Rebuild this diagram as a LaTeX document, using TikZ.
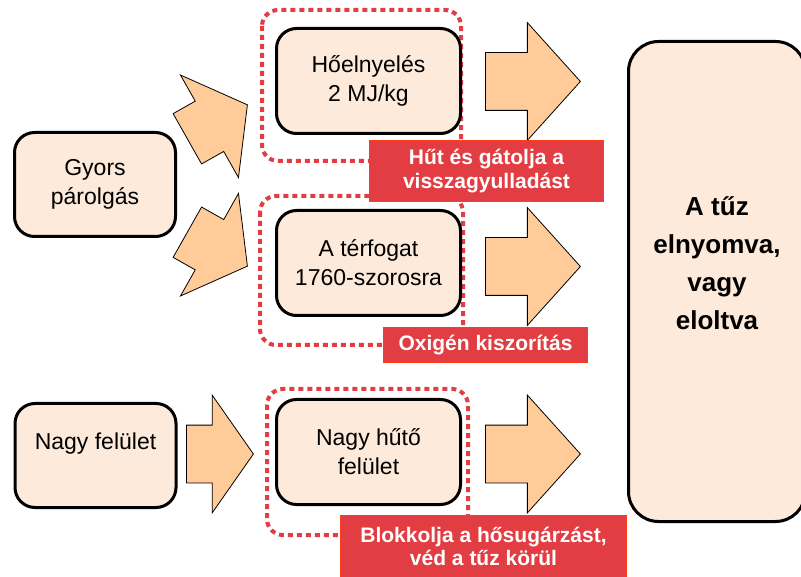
\documentclass[tikz,border=0pt]{standalone}
\usepackage{fontspec}
\setmainfont{Liberation Sans}
\usepackage{tikz}
\usetikzlibrary{shapes.arrows}
\definecolor{peachfill}{HTML}{FDEADA}
\definecolor{arrowfill}{HTML}{FFCC99}
\definecolor{redmark}{HTML}{E23D42}
\definecolor{tagedge}{HTML}{FF3D14}

\begin{document}
\begin{tikzpicture}[x=1pt,y=-1pt,
  softbox/.style={draw,line width=3pt,rounded corners=20pt,fill=peachfill,align=center,inner sep=0pt,font=\fontsize{23}{29}\selectfont},
  fatarrow/.style={single arrow,draw,line width=.8pt,fill=arrowfill,inner xsep=0pt,inner ysep=28.5pt,single arrow head extend=30pt,anchor=tail},
  dotframe/.style={draw=redmark,line width=4pt,dash pattern=on 5pt off 4pt,rounded corners=16pt},
  redtag/.style={draw=tagedge,line width=1pt,fill=redmark,text=white,align=center,inner sep=0pt,font=\fontsize{21}{23.5}\selectfont\bfseries}]
  \useasboundingbox (0,0) rectangle (801,577);
  % red dotted groups
  \draw[dotframe] (262,10) rectangle (461,161);
  \draw[dotframe] (260,196) rectangle (463,345);
  \draw[dotframe] (267,389) rectangle (468,535);
  % boxes
  \node[softbox,minimum width=161pt,minimum height=104pt] (gyors) at (95,184.5) {Gyors\\párolgás};
  \node[softbox,minimum width=161pt,minimum height=104pt] (felulet) at (95.5,455.5) {Nagy felület\\\mbox{}};
  \node[softbox,minimum width=184pt,minimum height=105pt] (hoe) at (368.5,81) {Hőelnyelés\\2 MJ/kg};
  \node[softbox,minimum width=184pt,minimum height=105pt] (terf) at (368.5,263) {A térfogat\\1760-szorosra};
  \node[softbox,minimum width=184pt,minimum height=105pt] (huto) at (368.5,452) {Nagy hűtő\\felület};
  \node[softbox,rounded corners=30pt,minimum width=177pt,minimum height=480pt] (tuz) at (717,281.5) {};
  \node[align=center,font=\fontsize{26}{38}\selectfont\bfseries] (tuztext) at (717,263) {A tűz\\elnyomva,\\vagy\\eloltva};
  % block arrows
  \node[fatarrow,rotate=29.5,minimum height=69pt,single arrow tip angle=107] (up) at (187,139) {};
  \node[fatarrow,rotate=-29.5,minimum height=69pt,single arrow tip angle=107] (down) at (187,232) {};
  \node[fatarrow,minimum height=67pt,single arrow tip angle=110] (side) at (186,454) {};
  \foreach \y/\n in {81.5/r1,266.5/r2,454/r3}
    \node[fatarrow,minimum height=95pt,single arrow tip angle=96] (\n) at (485,\y) {};
  % red notes
  \node[redtag,minimum width=234pt,minimum height=61pt] (note1) at (486.5,171) {Hűt és gátolja a\\visszagyulladást};
  \node[redtag,minimum width=204pt,minimum height=35pt] (note2) at (485.5,345) {Oxigén kiszorítás};
  \node[redtag,minimum width=286pt,minimum height=62pt] (note3) at (483.5,546.5) {Blokkolja a hősugárzást,\\véd a tűz körül};
\end{tikzpicture}
\end{document}
